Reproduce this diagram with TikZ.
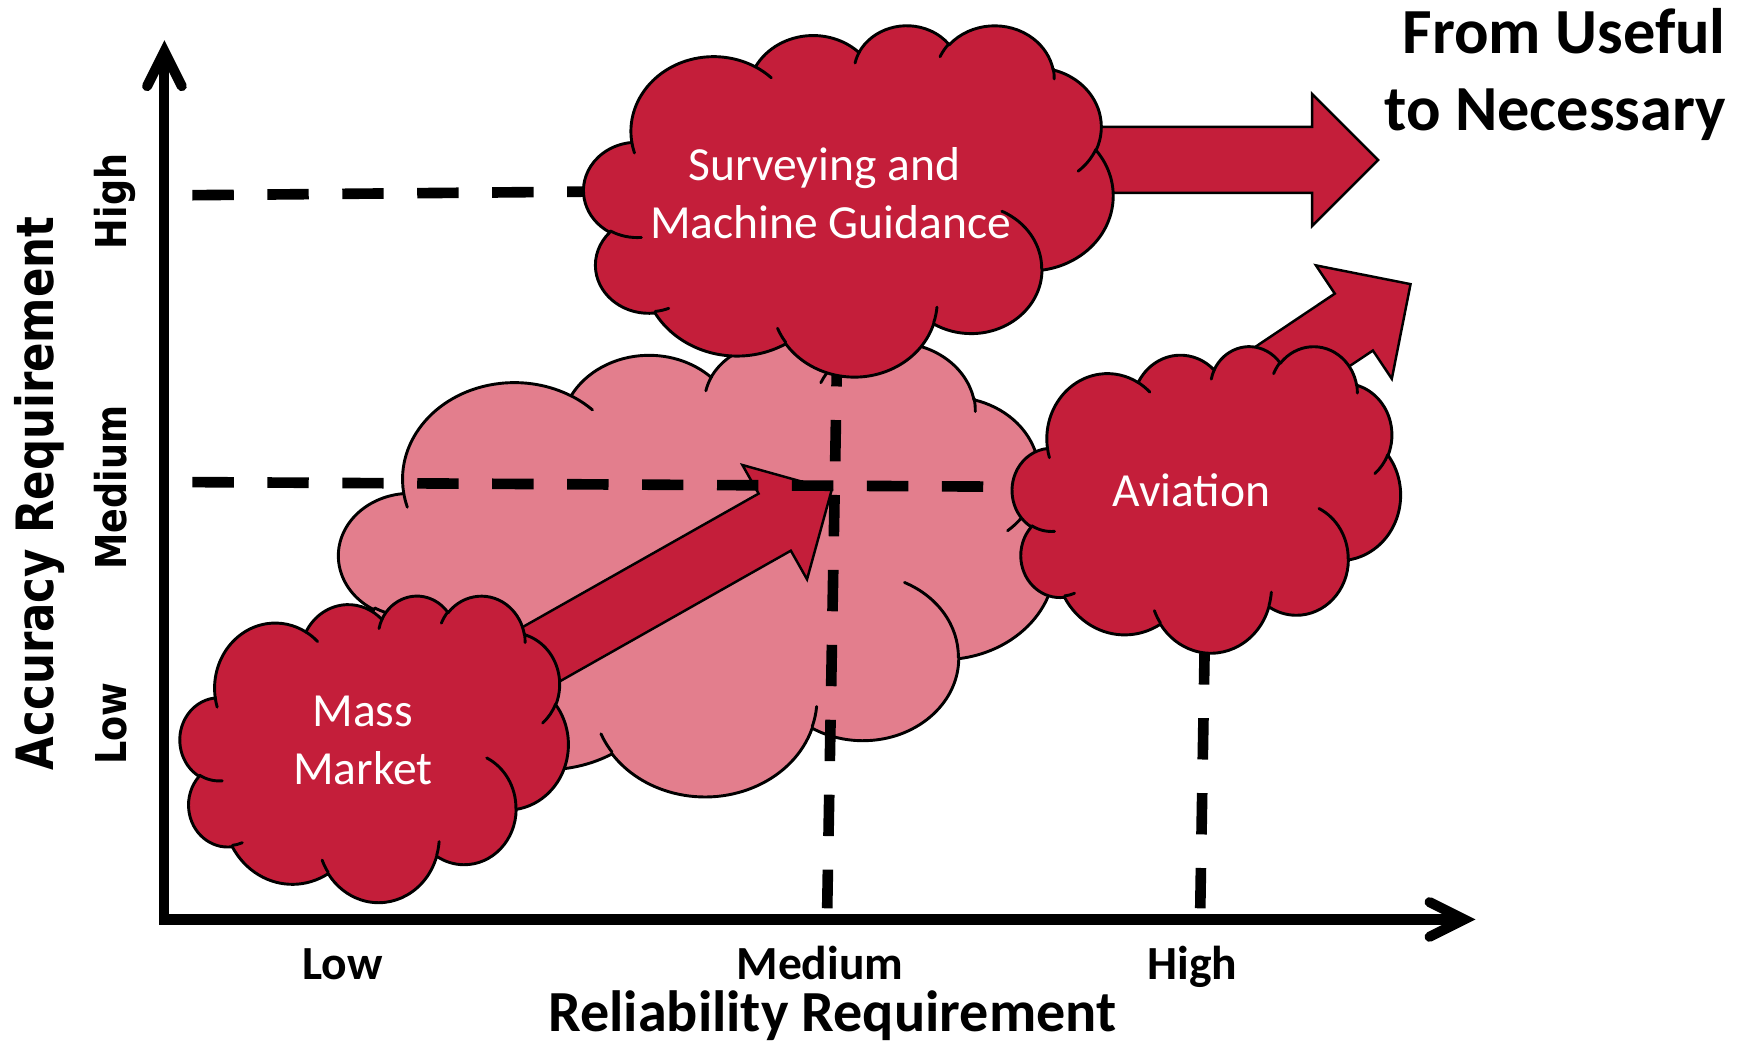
\documentclass[tikz,border=0pt]{standalone}
\usepackage{fontspec}
\setmainfont{Carlito}
\newfontfamily\vfont{DejaVu Sans}
\usepackage{graphicx}
\usetikzlibrary{calc}
\definecolor{cred}{RGB}{196,30,58}
\definecolor{cpink}{RGB}{227,126,141}

% OOXML arcTo -> TikZ arc (parametric angles)
\newcommand\defooarc[5]{%
  \pgfmathsetmacro\ooTs{atan2((#2)*sin(#4),(#3)*cos(#4))}%
  \pgfmathsetmacro\ooTe{atan2((#2)*sin((#4)+(#5)),(#3)*cos((#4)+(#5)))}%
  \pgfmathsetmacro\ooTe{ifthenelse(#5>0,ifthenelse(\ooTe<\ooTs,\ooTe+360,\ooTe),ifthenelse(\ooTe>\ooTs,\ooTe-360,\ooTe))}%
  \expandafter\xdef\csname #1\endcsname{arc[x radius=#2,y radius=#3,start angle=\ooTs,end angle=\ooTe]}%
}
\defooarc{ooarcA}{67.53}{91.90}{-190.4875}{123.7805}
\defooarc{ooarcB}{53.33}{72.67}{-144.1024}{89.9452}
\defooarc{ooarcC}{43.65}{59.45}{-145.8079}{99.7230}
\defooarc{ooarcD}{48.57}{65.95}{-130.9861}{117.2417}
\defooarc{ooarcE}{53.33}{72.73}{-78.7089}{109.0269}
\defooarc{ooarcF}{67.75}{92.20}{-46.2673}{130.2690}
\defooarc{ooarcG}{57.85}{78.67}{0.6250}{114.0333}
\defooarc{ooarcH}{67.52}{92.15}{22.4516}{115.1726}
\defooarc{ooarcI}{77.20}{105.43}{66.2426}{75.7110}
\defooarc{ooarcJ}{43.60}{59.18}{-274.9421}{146.7356}
\defooarc{ooarcK}{43.45}{59.45}{-246.8285}{152.5189}
\defooarc{ooinA}{43.45}{59.45}{86.7420}{26.4295}
\defooarc{ooinB}{43.60}{59.18}{73.6105}{11.4475}
\defooarc{ooinC}{67.52}{92.15}{137.6242}{14.0811}
\defooarc{ooinD}{67.52}{92.15}{6.4533}{15.9984}
\defooarc{ooinE}{57.85}{78.67}{-70.2924}{70.9174}
\defooarc{ooinF}{53.33}{72.73}{30.3180}{27.7515}
\defooarc{ooinG}{48.57}{65.95}{-13.7443}{14.8589}
\defooarc{ooinH}{48.57}{65.95}{-149.1815}{18.1954}
\defooarc{ooinI}{43.65}{59.45}{-163.4943}{17.6864}
\defooarc{ooinJ}{67.53}{91.90}{-66.7070}{12.3194}
\defooarc{ooinK}{67.53}{91.90}{157.6544}{11.8582}

% #1 name, #2 style, #3 left, #4 top, #5 width, #6 height
\newcommand\pptcloud[6]{%
  \pgfmathsetmacro\cloudsx{#5/432}%
  \pgfmathsetmacro\cloudsy{#6/432}%
  \begin{scope}[shift={(#3,#4)}, x=\cloudsx pt, y=-\cloudsy pt]
    \filldraw[#2] (39,143.7) \ooarcA \ooarcB \ooarcC \ooarcD \ooarcE \ooarcF
      \ooarcG \ooarcH \ooarcI \ooarcJ \ooarcK -- cycle;
    \draw[cloudline] (46.93,261.77) \ooinA (69.28,348.99) \ooinB
      (164.78,390.90) \ooinC (288.27,347.51) \ooinD (341.29,229.54) \ooinE
      (417.98,153.54) \ooinF (383.24,54.26) \ooinG (290.78,39.52) \ooinH
      (221.41,47.20) \ooinI (140.00,51.92) \ooinJ (41.27,157.89) \ooinK;
    \coordinate (#1) at (216,216);
  \end{scope}}

% #1 style, #2 tail, #3 tip, #4 shaft half width, #5 head half width, #6 head length
\newcommand\blockarrow[6]{%
  \coordinate (#2-base) at ($(#3)!#6!(#2)$);
  \filldraw[#1] ($(#2)!#4!90:(#3)$) -- ($(#2-base)!#4!-90:(#2)$)
    -- ($(#2-base)!#5!-90:(#2)$) -- (#3) -- ($(#2-base)!#5!90:(#2)$)
    -- ($(#2-base)!#4!90:(#2)$) -- ($(#2)!#4!-90:(#3)$) -- cycle;}

\begin{document}
\begin{tikzpicture}[x=1pt, y=-1pt,
  darkcloud/.style={fill=cred, draw=black, line width=2.6pt, line join=round},
  pinkcloud/.style={fill=cpink, draw=black, line width=2.6pt, line join=round},
  cloudline/.style={draw=black, line width=2.6pt, line cap=round},
  blockarr/.style={fill=cred, draw=black, line width=2.2pt, line join=miter},
  dashline/.style={line width=9.5pt, dash pattern=on 37pt off 30pt},
  axisline/.style={line width=9pt, line join=miter},
  axistip/.style={line width=9pt, line cap=round, line join=miter},
  cloudtext/.style={text=white, inner sep=0pt, font=\fontsize{42.5}{52}\selectfont},
  xticklab/.style={inner sep=0pt, font=\bfseries\fontsize{42.5}{50}\selectfont},
  yticklab/.style={inner sep=0pt, rotate=90, font=\vfont\bfseries\fontsize{38}{44}\selectfont},
  titlelab/.style={inner sep=0pt, font=\bfseries\fontsize{57.5}{69}\selectfont}]
\useasboundingbox (0,0) rectangle (1560,933);

% big pink cloud
\pptcloud{pinkc}{pinkcloud}{303}{305}{640}{406}

% arrow from mass market to medium
\coordinate (mtail) at (466.4,594.7);
\coordinate (mtip) at (743.5,438);
\blockarrow{blockarr}{mtail}{mtip}{29.3pt}{58.7pt}{58.5pt}

% dashed guide lines
\coordinate (hA) at (172,174.5); \coordinate (hB) at (560,171);
\draw[dashline] (hA) -- (hB);
\coordinate (mA) at (172,431); \coordinate (mB) at (880,435);
\draw[dashline] (mA) -- (mB);
\coordinate (vmA) at (748.5,308.5); \coordinate (vmB) at (739.5,812);
\draw[dashline] (vmA) -- (vmB);
\coordinate (vhA) at (1077,575); \coordinate (vhB) at (1073,812);
\draw[dashline] (vhA) -- (vhB);

% surveying arrow and cloud
\coordinate (stail) at (950,143); \coordinate (stip) at (1232,143);
\blockarrow{blockarr}{stail}{stip}{29.5pt}{59pt}{59pt}
\pptcloud{survc}{darkcloud}{522}{22}{473}{314}

% aviation arrow and cloud
\coordinate (atail) at (1094,365.8); \coordinate (atip) at (1261,254);
\blockarrow{blockarr}{atail}{atip}{30.6pt}{61pt}{61pt}
\pptcloud{avic}{darkcloud}{905}{309}{347}{274}

% mass market cloud
\pptcloud{massc}{darkcloud}{161}{532}{347}{274}

% axes
\coordinate (org) at (147,822);
\coordinate (ytip) at (147,46);
\coordinate (xtip) at (1309,822);
\draw[axisline] (ytip) -- (org) -- (xtip);
\coordinate (yw1) at (131.5,77); \coordinate (yw2) at (162.5,77);
\draw[axistip] (yw1) -- (ytip) -- (yw2);
\coordinate (xw1) at (1278,806.5); \coordinate (xw2) at (1278,837.5);
\draw[axistip] (xw1) -- (xtip) -- (xw2);

% cloud texts
\node[cloudtext, anchor=base] (t1) at (737,161) {Surveying and};
\node[cloudtext, anchor=base] (t2) at (742.6,213) {Machine Guidance};
\node[cloudtext, anchor=base] (t3) at (1065,453) {Aviation};
\node[cloudtext, anchor=base] (t4) at (324.4,649.6) {Mass};
\node[cloudtext, anchor=base] (t5) at (324.5,700.9) {Market};

% axis labels
\node[xticklab, anchor=base] (xlow) at (306,876) {Low};
\node[xticklab, anchor=base] (xmed) at (733,876) {Medium};
\node[xticklab, anchor=base] (xhigh) at (1066,876) {High};
\node[inner sep=0pt, anchor=base, font=\bfseries\fontsize{52}{60}\selectfont] (xlab) at (744,922) {Reliability Requirement};

\node[yticklab, anchor=base] (ylow) at (113,647) {\scalebox{0.86}[1]{Low}};
\node[yticklab, anchor=base] (ymed) at (113,436) {\scalebox{0.86}[1]{Medium}};
\node[yticklab, anchor=base] (yhigh) at (113,180) {\scalebox{0.86}[1]{High}};
\node[inner sep=0pt, rotate=90, anchor=base, font=\vfont\bfseries\fontsize{46}{50}\selectfont] (ylab) at (48,441) {\scalebox{0.845}[1]{Accuracy Requirement}};

\node[titlelab, anchor=base east] (title1) at (1543,48) {From Useful};
\node[titlelab, anchor=base east] (title2) at (1543,117) {to Necessary};
\end{tikzpicture}
\end{document}
